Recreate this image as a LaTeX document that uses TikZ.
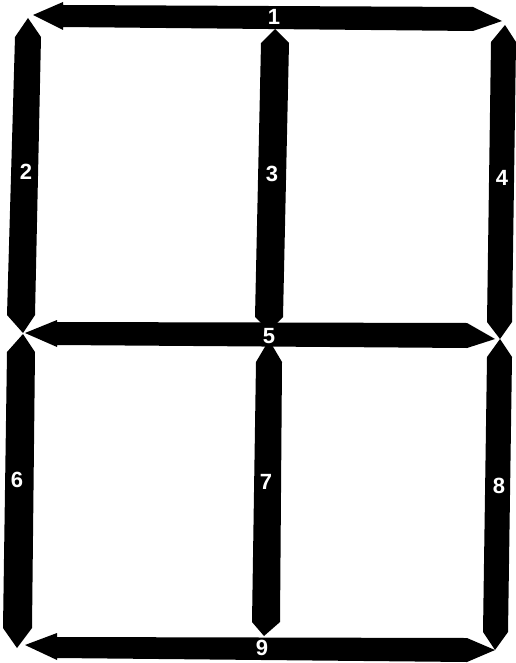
\documentclass[tikz,border=0pt]{standalone}
\usepackage{fontspec}
\setmainfont{Liberation Sans}
\begin{document}
\begin{tikzpicture}[x=1pt,y=-1pt,
  bar/.style={fill=black,draw=none},
  lbl/.style={text=white,font=\fontsize{22}{22}\selectfont\bfseries,inner sep=0pt}]
\useasboundingbox[fill=white] (0,0) rectangle (515,663);
% bar 1 (top)
\fill[bar] (33,15) -- (63,2) -- (63,5) -- (473,7) -- (502,21) -- (473,31) -- (63,27) -- (63,30) -- cycle;
% bar 2 (left upper)
\fill[bar] (28,18) -- (41,37) -- (35,315) -- (23,333) -- (7,315) -- (15,37) -- cycle;
% bar 3 (middle upper)
\fill[bar] (275,29) -- (289,43) -- (283,317) -- (269,331) -- (255,317) -- (261,43) -- cycle;
% bar 4 (right upper)
\fill[bar] (505,25) -- (516,42) -- (512,322) -- (500,339) -- (487,322) -- (491,42) -- cycle;
% bar 6 (left lower)
\fill[bar] (23,334) -- (35,352) -- (32,628) -- (17,648) -- (3,628) -- (7,352) -- cycle;
% bar 7 (middle lower)
\fill[bar] (269,340) -- (282,362) -- (280,622) -- (264,636) -- (252,622) -- (256,362) -- cycle;
% bar 8 (right lower)
\fill[bar] (500,339) -- (512,357) -- (508,632) -- (495,650) -- (483,632) -- (487,357) -- cycle;
% bar 5 (middle horizontal)
\fill[bar] (25,333) -- (57,320) -- (57,322) -- (467,323) -- (495,339) -- (467,348) -- (57,345) -- (57,347) -- cycle;
% bar 9 (bottom)
\fill[bar] (25,645) -- (57,633) -- (57,637) -- (467,638) -- (495,650) -- (467,662) -- (57,658) -- (57,660) -- cycle;
% labels
\node[lbl] (l1) at (274,17) {1};
\node[lbl] (l2) at (26,172) {2};
\node[lbl] (l3) at (272,174) {3};
\node[lbl] (l4) at (502,178) {4};
\node[lbl] (l5) at (269,336) {5};
\node[lbl] (l6) at (17,480) {6};
\node[lbl] (l7) at (266,482) {7};
\node[lbl] (l8) at (499,486) {8};
\node[lbl] (l9) at (262,648) {9};
\end{tikzpicture}
\end{document}
